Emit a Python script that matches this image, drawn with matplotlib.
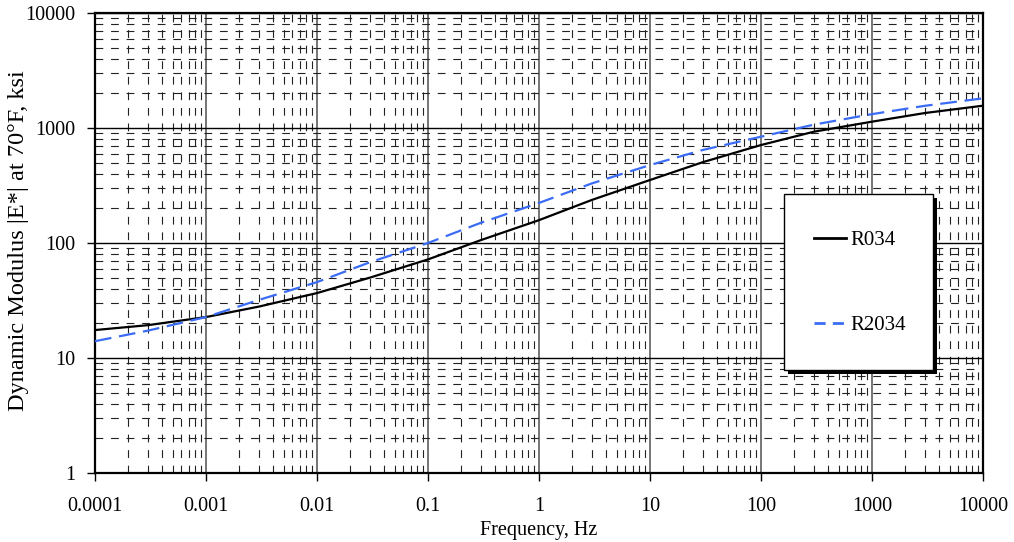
import matplotlib
matplotlib.use("Agg")
import matplotlib.pyplot as plt
from matplotlib.patches import Rectangle
from matplotlib.ticker import FixedLocator, FixedFormatter, LogLocator, NullFormatter

plt.rcParams['font.family'] = ['Liberation Serif', 'DejaVu Serif']

# Frequency (Hz)
freq = [1e-4, 3e-4, 1e-3, 3e-3, 1e-2, 3e-2, 1e-1, 3e-1, 1, 3, 10, 30, 100, 300, 1000, 3000, 10000]
# Dynamic modulus (ksi)
r034 = [17.5, 19.3, 22.7, 28.0, 36.7, 50.0, 72.0, 106, 158, 237, 353, 505, 711, 929, 1135, 1350, 1563]
r2034 = [14.0, 17.3, 22.7, 32.0, 45.7, 68.0, 100, 150, 223, 330, 476, 645, 840, 1070, 1320, 1560, 1811]

x_ticks = [1e-4, 1e-3, 1e-2, 1e-1, 1, 10, 100, 1000, 10000]
x_labels = ["0.0001", "0.001", "0.01", "0.1", "1", "10", "100", "1000", "10000"]
y_ticks = [1, 10, 100, 1000, 10000]
y_labels = ["1", "10", "100", "1000", "10000"]

fig = plt.figure(figsize=(10.14, 5.42), dpi=100)
fig.subplots_adjust(left=95/1014, right=983/1014, bottom=(542-473)/542, top=(542-13)/542)
ax = fig.add_subplot(111)

ax.set_xscale('log')
ax.set_yscale('log')
ax.set_xlim(1e-4, 1e4)
ax.set_ylim(1, 1e4)

ax.xaxis.set_major_locator(FixedLocator(x_ticks))
ax.xaxis.set_major_formatter(FixedFormatter(x_labels))
ax.yaxis.set_major_locator(FixedLocator(y_ticks))
ax.yaxis.set_major_formatter(FixedFormatter(y_labels))
ax.xaxis.set_minor_locator(LogLocator(base=10, subs=range(2, 10), numticks=20))
ax.yaxis.set_minor_locator(LogLocator(base=10, subs=range(2, 10), numticks=20))
ax.xaxis.set_minor_formatter(NullFormatter())
ax.yaxis.set_minor_formatter(NullFormatter())

ax.tick_params(which='major', direction='out', length=6, width=1, labelsize=14.5, color='black')
ax.tick_params(axis='x', which='major', pad=11)
ax.tick_params(axis='y', which='major', pad=8)
ax.tick_params(which='minor', length=0)

ax.grid(True, which='minor', axis='both', color='#222222', linewidth=0.8, linestyle=(0, (7, 7)))
ax.grid(True, which='major', axis='y', color='black', linewidth=1.0, linestyle='-')
ax.grid(True, which='major', axis='x', color='#6a6a6a', linewidth=1.3, linestyle='-')
ax.set_axisbelow(True)

for s in ax.spines.values():
    s.set_linewidth(1.6)
    s.set_color('black')

ax.plot(freq, r034, color='black', linewidth=1.6, label='R034', zorder=3)
ax.plot(freq, r2034, color='#3b6cf5', linewidth=1.6, linestyle=(0, (7.5, 3.5)), label='R2034', zorder=3)

ax.set_xlabel('Frequency, Hz', fontsize=14.5, labelpad=4)
ax.set_ylabel('Dynamic Modulus |E*| at 70°F, ksi', fontsize=17.5)
ax.yaxis.set_label_coords(-0.074, 0.505)

# legend box with shadow
bx0, bx1 = (784 - 95) / 888, (933 - 95) / 888
by0, by1 = (473 - 370) / 460, (473 - 194) / 460
ax.add_patch(Rectangle((bx0 + 3.5 / 888, by0 - 3.5 / 460), bx1 - bx0, by1 - by0, transform=ax.transAxes,
                       facecolor='black', edgecolor='black', linewidth=0, zorder=4.4, clip_on=False))
ax.add_patch(Rectangle((bx0, by0), bx1 - bx0, by1 - by0, transform=ax.transAxes,
                       facecolor='white', edgecolor='black', linewidth=1.0, zorder=4.5, clip_on=False))

leg = ax.legend(loc='center', bbox_to_anchor=(0.861, 0.414), borderaxespad=0, borderpad=0,
                fontsize=15, frameon=False, labelspacing=3.14, handlelength=1.55, handletextpad=0.2)
leg_lines = leg.get_lines()
for h in leg_lines:
    h.set_linewidth(2.0)
leg_lines[1].set_linestyle((0, (4.0, 2.6)))
leg.set_zorder(5)

fig.savefig('out.png', dpi=100)
